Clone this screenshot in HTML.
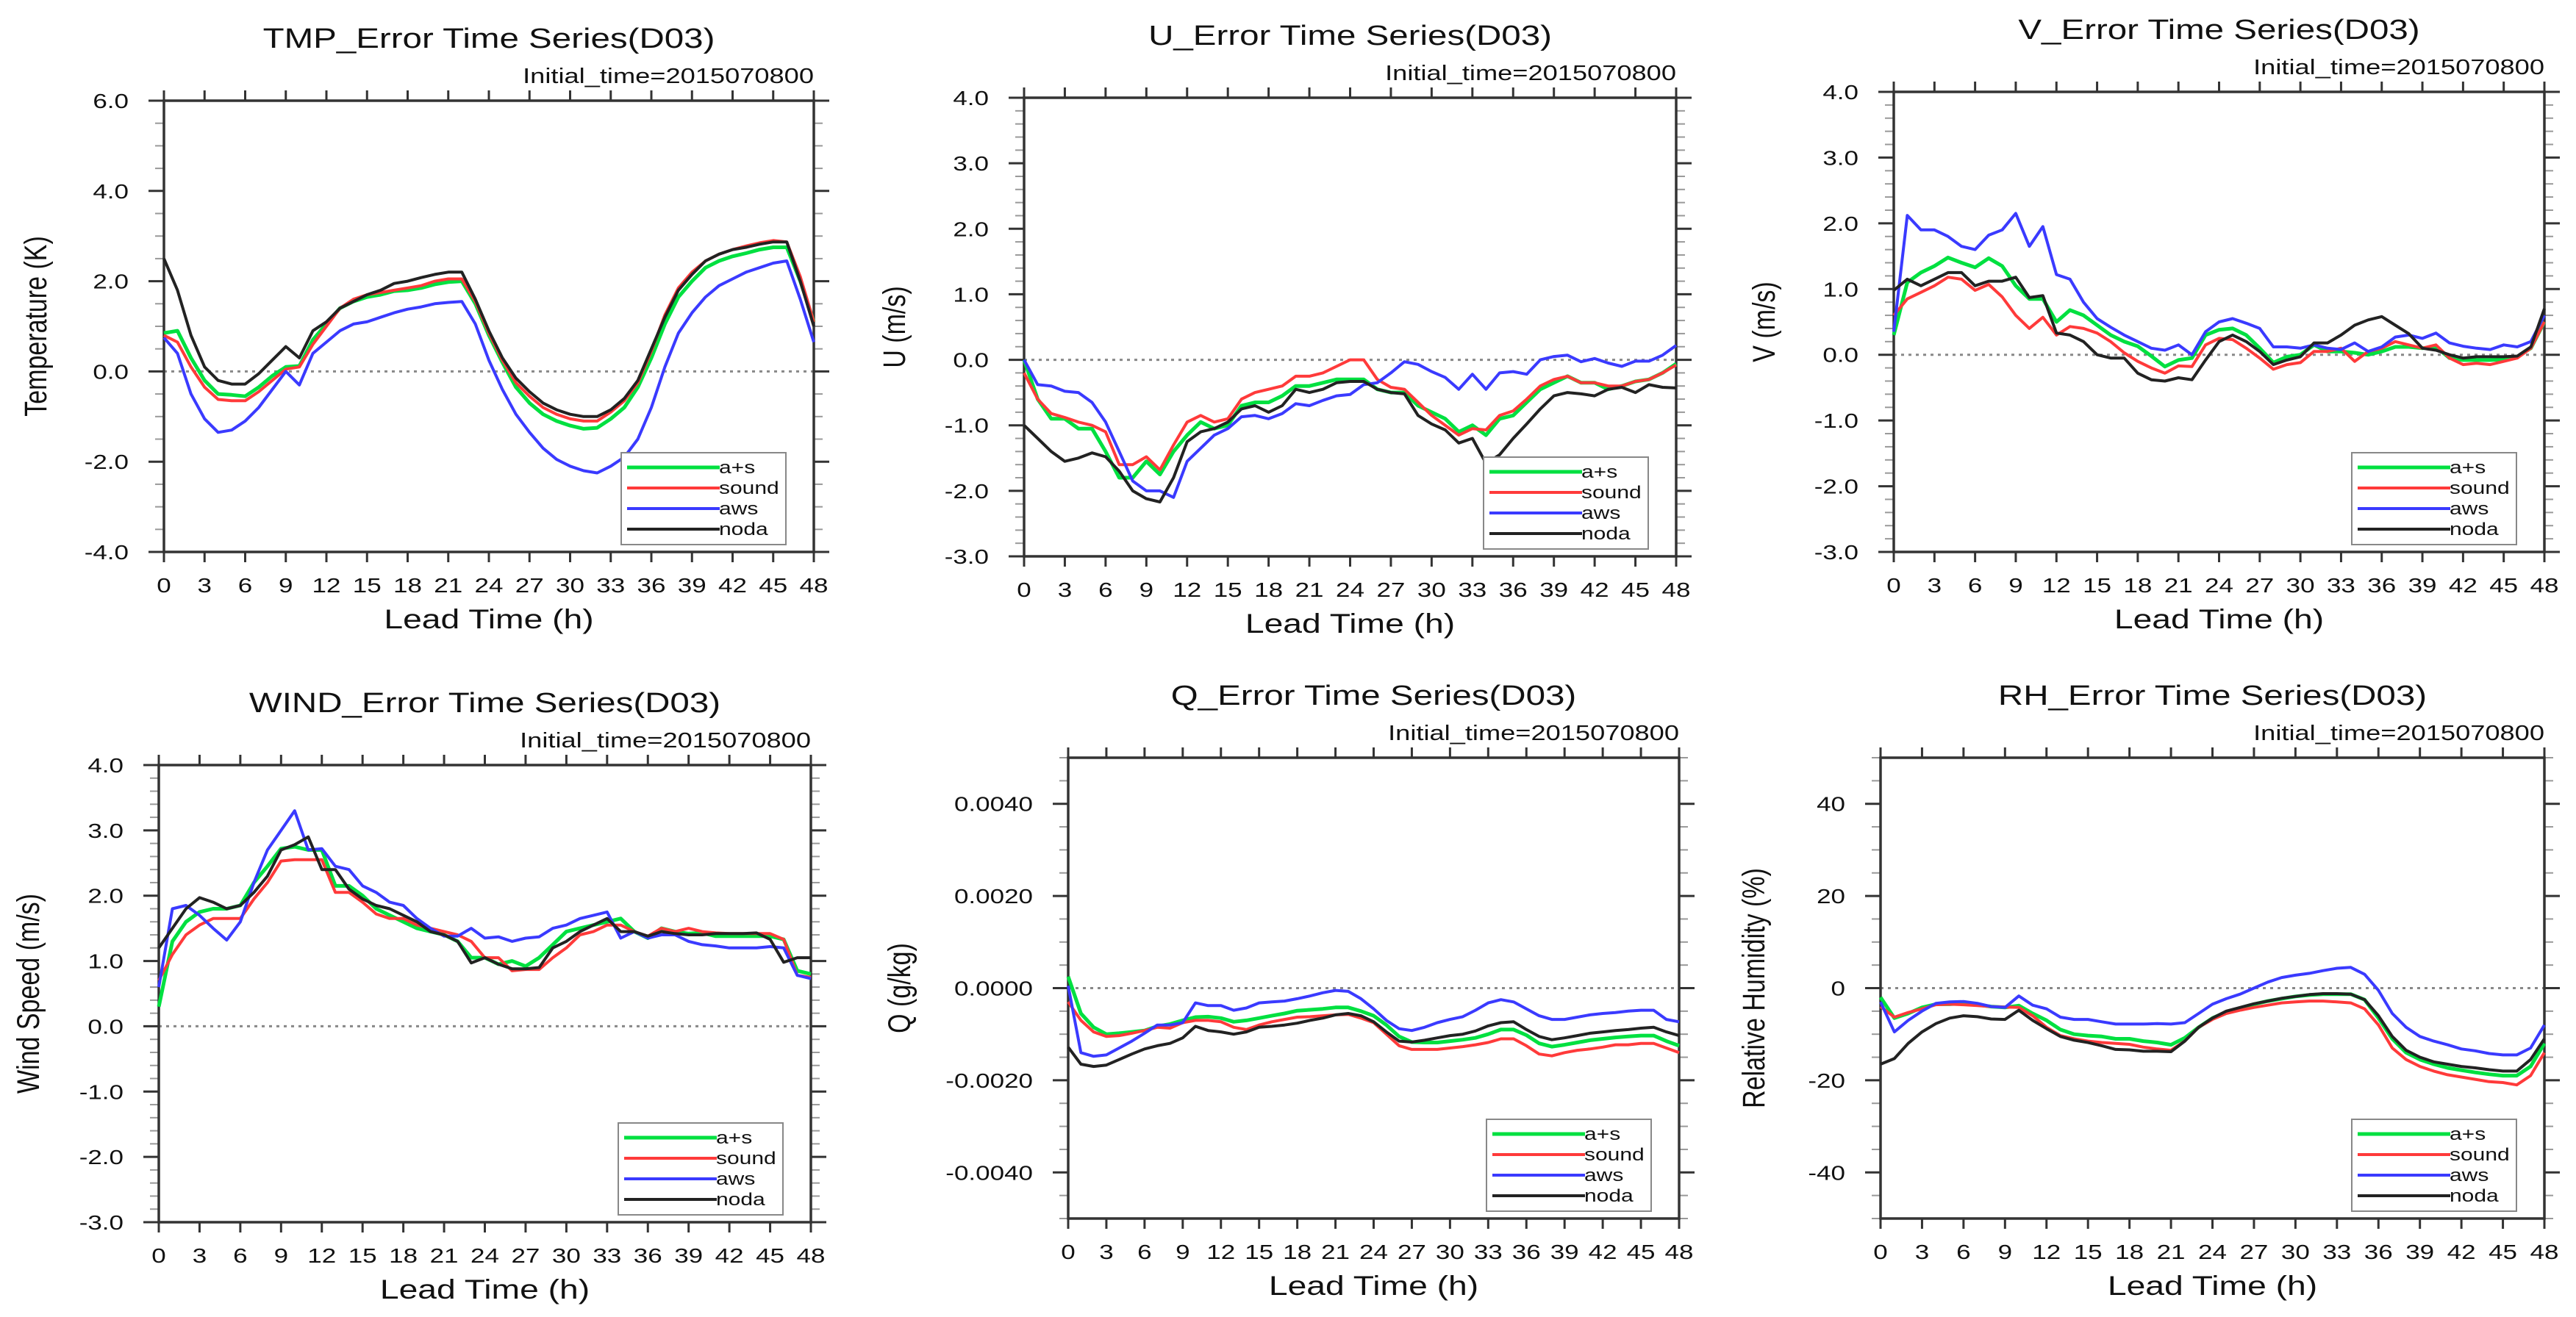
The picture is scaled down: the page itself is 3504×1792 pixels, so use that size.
<!DOCTYPE html>
<html><head><meta charset="utf-8"><style>
html,body{margin:0;padding:0;background:#fff;}
svg{display:block;}
text{font-family:"Liberation Sans",sans-serif;fill:#111;}
</style></head><body>
<svg id="fig" xmlns="http://www.w3.org/2000/svg" width="3504" height="1792" viewBox="0 0 3504 1792"></svg>
<script>
const hours=[0,1,2,3,4,5,6,7,8,9,10,11,12,13,14,15,16,17,18,19,20,21,22,23,24,25,26,27,28,29,30,31,32,33,34,35,36,37,38,39,40,41,42,43,44,45,46,47,48];
const seriesNames=["a+s","sound","aws","noda"];
const xTickLabels=["0","3","6","9","12","15","18","21","24","27","30","33","36","39","42","45","48"];

const tmpAS=[0.85,0.9,0.3,-0.2,-0.5,-0.52,-0.55,-0.35,-0.1,0.1,0.12,0.7,1.05,1.4,1.55,1.65,1.7,1.78,1.8,1.85,1.93,1.98,2.0,1.5,0.8,0.2,-0.35,-0.7,-0.95,-1.1,-1.2,-1.27,-1.25,-1.05,-0.8,-0.35,0.3,1.05,1.65,2.0,2.3,2.45,2.55,2.62,2.7,2.75,2.75,2.0,1.1];
const tmpSound=[0.8,0.65,0.1,-0.35,-0.62,-0.65,-0.65,-0.45,-0.2,0.05,0.1,0.6,1.0,1.4,1.6,1.7,1.75,1.8,1.85,1.9,2.0,2.05,2.05,1.55,0.85,0.25,-0.25,-0.55,-0.8,-0.95,-1.05,-1.1,-1.1,-0.9,-0.65,-0.25,0.45,1.25,1.85,2.2,2.45,2.6,2.7,2.78,2.85,2.9,2.87,2.1,1.1];
const tmpAws=[0.75,0.4,-0.5,-1.05,-1.35,-1.3,-1.1,-0.8,-0.4,0.0,-0.3,0.4,0.65,0.9,1.05,1.1,1.2,1.3,1.38,1.43,1.5,1.53,1.55,1.05,0.25,-0.4,-0.95,-1.35,-1.7,-1.95,-2.1,-2.2,-2.25,-2.1,-1.9,-1.5,-0.8,0.1,0.85,1.3,1.65,1.9,2.05,2.2,2.3,2.4,2.45,1.6,0.65];
const tmpNoda=[2.5,1.8,0.8,0.1,-0.2,-0.28,-0.28,-0.05,0.25,0.55,0.3,0.9,1.1,1.4,1.55,1.7,1.8,1.95,2.0,2.08,2.15,2.2,2.2,1.6,0.9,0.3,-0.15,-0.45,-0.7,-0.85,-0.95,-1.0,-1.0,-0.85,-0.6,-0.2,0.5,1.2,1.8,2.15,2.45,2.6,2.7,2.75,2.82,2.87,2.87,2.0,1.0];

const uAS=[0,-0.6,-0.9,-0.9,-1.05,-1.05,-1.4,-1.8,-1.8,-1.55,-1.75,-1.4,-1.15,-0.95,-1.05,-1.0,-0.7,-0.65,-0.65,-0.55,-0.4,-0.4,-0.35,-0.3,-0.3,-0.3,-0.45,-0.5,-0.5,-0.7,-0.8,-0.9,-1.1,-1.0,-1.15,-0.9,-0.85,-0.65,-0.45,-0.35,-0.25,-0.35,-0.35,-0.45,-0.4,-0.33,-0.3,-0.2,-0.06];
const uSound=[-0.2,-0.6,-0.82,-0.88,-0.95,-1.0,-1.1,-1.6,-1.6,-1.48,-1.68,-1.3,-0.95,-0.85,-0.95,-0.9,-0.6,-0.5,-0.45,-0.4,-0.25,-0.25,-0.2,-0.1,0.0,0.0,-0.3,-0.42,-0.45,-0.65,-0.85,-1.0,-1.15,-1.05,-1.07,-0.85,-0.78,-0.6,-0.4,-0.3,-0.25,-0.35,-0.35,-0.4,-0.4,-0.33,-0.3,-0.2,-0.08];
const uAws=[0,-0.38,-0.4,-0.48,-0.5,-0.65,-0.95,-1.4,-1.85,-2.0,-2.0,-2.1,-1.55,-1.35,-1.15,-1.05,-0.87,-0.85,-0.9,-0.82,-0.67,-0.7,-0.62,-0.55,-0.53,-0.38,-0.35,-0.2,-0.03,-0.07,-0.18,-0.27,-0.45,-0.22,-0.45,-0.2,-0.18,-0.22,0.0,0.05,0.07,-0.03,0.02,-0.05,-0.1,-0.02,-0.02,0.07,0.22];
const uNoda=[-1.0,-1.2,-1.4,-1.55,-1.5,-1.42,-1.48,-1.7,-2.0,-2.12,-2.17,-1.8,-1.25,-1.1,-1.05,-0.95,-0.75,-0.7,-0.8,-0.7,-0.45,-0.5,-0.45,-0.35,-0.33,-0.33,-0.45,-0.5,-0.52,-0.85,-0.98,-1.07,-1.27,-1.2,-1.58,-1.45,-1.2,-0.98,-0.75,-0.55,-0.5,-0.52,-0.55,-0.45,-0.42,-0.5,-0.38,-0.42,-0.43];

const vAS=[0.3,1.1,1.25,1.35,1.48,1.4,1.33,1.47,1.35,1.05,0.85,0.85,0.5,0.68,0.6,0.45,0.3,0.2,0.13,-0.02,-0.18,-0.08,-0.05,0.3,0.38,0.4,0.3,0.1,-0.12,-0.03,0.0,0.15,0.05,0.05,0.03,0.0,0.05,0.12,0.12,0.1,0.12,-0.05,-0.08,-0.08,-0.08,-0.07,-0.03,0.1,0.5];
const vSound=[0.6,0.85,0.95,1.05,1.18,1.15,0.98,1.07,0.88,0.6,0.4,0.57,0.3,0.43,0.4,0.33,0.2,0.03,-0.1,-0.2,-0.28,-0.17,-0.18,0.15,0.25,0.23,0.1,-0.05,-0.22,-0.15,-0.12,0.05,0.05,0.1,-0.1,0.05,0.1,0.2,0.15,0.1,0.15,-0.05,-0.15,-0.13,-0.15,-0.1,-0.05,0.1,0.5];
const vAws=[0.35,2.12,1.9,1.9,1.8,1.65,1.6,1.82,1.9,2.15,1.65,1.95,1.22,1.15,0.8,0.55,0.42,0.3,0.2,0.1,0.07,0.15,0.0,0.35,0.5,0.55,0.48,0.4,0.12,0.12,0.1,0.15,0.1,0.08,0.18,0.05,0.12,0.27,0.3,0.25,0.33,0.18,0.13,0.1,0.08,0.15,0.12,0.2,0.6];
const vNoda=[0.98,1.15,1.05,1.15,1.25,1.25,1.05,1.12,1.12,1.18,0.87,0.9,0.33,0.3,0.2,0.0,-0.05,-0.05,-0.28,-0.38,-0.4,-0.35,-0.38,-0.08,0.2,0.3,0.2,0.05,-0.15,-0.08,-0.03,0.18,0.18,0.3,0.45,0.53,0.58,0.45,0.32,0.1,0.07,0.0,-0.05,-0.03,-0.03,-0.03,-0.02,0.12,0.7];

const windAS=[0.3,1.3,1.6,1.75,1.8,1.8,1.85,2.2,2.45,2.72,2.75,2.7,2.7,2.15,2.15,2.0,1.8,1.7,1.6,1.5,1.45,1.4,1.3,1.05,1.05,0.95,1.0,0.92,1.05,1.25,1.45,1.5,1.55,1.6,1.65,1.45,1.35,1.5,1.45,1.42,1.43,1.38,1.38,1.38,1.38,1.38,1.33,0.85,0.8];
const windSound=[0.7,1.1,1.4,1.55,1.65,1.65,1.65,1.95,2.2,2.53,2.55,2.55,2.55,2.05,2.05,1.9,1.72,1.65,1.65,1.55,1.5,1.45,1.4,1.3,1.05,1.05,0.85,0.87,0.87,1.05,1.2,1.4,1.45,1.55,1.55,1.45,1.38,1.5,1.45,1.5,1.45,1.43,1.42,1.42,1.42,1.42,1.33,0.78,0.75];
const windAws=[0.6,1.8,1.85,1.7,1.5,1.32,1.6,2.2,2.7,3.0,3.3,2.7,2.72,2.45,2.4,2.15,2.05,1.9,1.85,1.65,1.5,1.38,1.38,1.5,1.35,1.37,1.3,1.35,1.37,1.5,1.55,1.65,1.7,1.75,1.35,1.45,1.35,1.4,1.4,1.3,1.25,1.23,1.2,1.2,1.2,1.22,1.2,0.78,0.73];
const windNoda=[1.2,1.5,1.8,1.97,1.9,1.8,1.85,2.05,2.3,2.7,2.78,2.9,2.4,2.4,2.1,1.95,1.85,1.8,1.7,1.6,1.45,1.4,1.3,0.97,1.05,0.95,0.88,0.88,0.9,1.2,1.3,1.45,1.55,1.65,1.45,1.45,1.38,1.45,1.42,1.4,1.4,1.42,1.42,1.42,1.43,1.33,0.98,1.05,1.05];

const qAS=[0.00025,-0.00055,-0.00085,-0.001,-0.00098,-0.00095,-0.00092,-0.00083,-0.00078,-0.0007,-0.00063,-0.00062,-0.00065,-0.00073,-0.0007,-0.00065,-0.0006,-0.00055,-0.00049,-0.00047,-0.00045,-0.00042,-0.00042,-0.0005,-0.0006,-0.0008,-0.00105,-0.00117,-0.00118,-0.00118,-0.00115,-0.00112,-0.00108,-0.001,-0.0009,-0.0009,-0.00102,-0.0012,-0.00127,-0.00123,-0.00118,-0.00113,-0.0011,-0.00107,-0.00105,-0.00103,-0.00103,-0.00115,-0.00125];
const qSound=[-0.0003,-0.0007,-0.00095,-0.00105,-0.00103,-0.00098,-0.00092,-0.00085,-0.00087,-0.00075,-0.0007,-0.0007,-0.00073,-0.00085,-0.0009,-0.0008,-0.00073,-0.00068,-0.00063,-0.00062,-0.0006,-0.00058,-0.00057,-0.00065,-0.00075,-0.001,-0.00125,-0.00133,-0.00133,-0.00133,-0.0013,-0.00127,-0.00123,-0.00118,-0.0011,-0.0011,-0.00125,-0.00143,-0.00147,-0.0014,-0.00135,-0.00132,-0.00128,-0.00123,-0.00123,-0.0012,-0.0012,-0.0013,-0.0014];
const qAws=[0.00005,-0.0014,-0.00148,-0.00145,-0.0013,-0.00115,-0.00098,-0.0008,-0.0008,-0.00075,-0.00032,-0.00038,-0.00038,-0.00048,-0.00043,-0.00032,-0.0003,-0.00028,-0.00023,-0.00017,-0.0001,-0.00005,-0.00007,-0.00023,-0.00045,-0.0007,-0.00088,-0.00092,-0.00085,-0.00075,-0.00068,-0.00062,-0.00048,-0.00032,-0.00025,-0.0003,-0.00045,-0.0006,-0.00068,-0.00068,-0.00063,-0.00058,-0.00055,-0.00053,-0.0005,-0.00048,-0.00048,-0.00068,-0.00073];
const qNoda=[-0.00128,-0.00165,-0.0017,-0.00167,-0.00155,-0.00143,-0.00132,-0.00125,-0.0012,-0.00108,-0.00083,-0.00092,-0.00095,-0.001,-0.00095,-0.00085,-0.00083,-0.0008,-0.00076,-0.0007,-0.00065,-0.00058,-0.00055,-0.0006,-0.00073,-0.00095,-0.00115,-0.00117,-0.00113,-0.00108,-0.00103,-0.001,-0.00093,-0.00082,-0.00075,-0.00073,-0.0009,-0.00105,-0.00112,-0.00108,-0.00103,-0.00098,-0.00095,-0.00092,-0.0009,-0.00087,-0.00085,-0.00095,-0.00103];

const rhAS=[-2,-6.5,-5.5,-4.2,-3.5,-3.5,-3.3,-3.6,-4,-4.2,-3.8,-5.5,-7,-9,-10,-10.3,-10.5,-11,-11,-11.5,-11.8,-12.3,-10.8,-8.5,-6.5,-5.2,-4.3,-3.5,-2.8,-2.3,-1.8,-1.5,-1.3,-1.3,-1.3,-2.5,-6.5,-11,-14,-15.5,-16.5,-17.3,-17.8,-18.3,-18.7,-19,-19,-17,-12];
const rhSound=[-4,-6.3,-5.3,-4.5,-3.6,-3.5,-3.6,-3.8,-4.0,-4.1,-4.2,-6,-8.5,-10.3,-11,-11.5,-11.8,-12,-12.2,-12.8,-13.2,-13.5,-11.5,-8.5,-6.8,-5.5,-4.8,-4.2,-3.7,-3.2,-3,-2.8,-2.8,-3,-3.2,-4.5,-8,-13,-15.5,-17,-18,-18.8,-19.3,-19.8,-20.3,-20.5,-21,-19,-14];
const rhAws=[-3,-9.5,-7,-5,-3.3,-3,-2.9,-3.3,-4,-4.2,-1.7,-3.7,-4.5,-6.3,-6.8,-6.8,-7.3,-7.8,-7.8,-7.8,-7.7,-7.8,-7.5,-5.5,-3.5,-2.3,-1.3,0,1.3,2.3,2.8,3.2,3.8,4.3,4.5,3,-0.5,-5.5,-8.5,-10.5,-11.5,-12.3,-13.2,-13.6,-14.2,-14.5,-14.5,-13,-8];
const rhNoda=[-16.5,-15.3,-12,-9.5,-7.7,-6.5,-6,-6.2,-6.7,-6.8,-4.8,-7,-8.8,-10.5,-11.3,-11.8,-12.5,-13.3,-13.4,-13.7,-13.7,-13.8,-11.5,-8.5,-6.5,-5.0,-4.2,-3.4,-2.8,-2.2,-1.8,-1.4,-1.2,-1.2,-1.3,-2.5,-6,-10.5,-13.5,-15,-16,-16.5,-17,-17.3,-17.7,-18,-18,-15.5,-11];

const tmpTicks=[6,4,2,0,-2,-4];     const tmpTickLabels=["6.0","4.0","2.0","0.0","-2.0","-4.0"];
const uvTicks=[4,3,2,1,0,-1,-2,-3]; const uvTickLabels=["4.0","3.0","2.0","1.0","0.0","-1.0","-2.0","-3.0"];
const qTicks=[0.004,0.002,0,-0.002,-0.004]; const qTickLabels=["0.0040","0.0020","0.0000","-0.0020","-0.0040"];
const rhTicks=[40,20,0,-20,-40];   const rhTickLabels=["40","20","0","-20","-40"];

const colors={"a+s":"#00e040","sound":"#ff3a3a","aws":"#3a3aff","noda":"#222222"};
const NS="http://www.w3.org/2000/svg";
const fig=document.getElementById('fig');
const SX=1.25;

const panels=[
 {key:"tmp",title:"TMP_Error Time Series(D03)",ylabel:"Temperature (K)",x0:223,x1:1107,y0:137,y1:751,ymin:-4,ymax:6,minor:0.5,ticks:tmpTicks,tl:tmpTickLabels,data:[tmpAS,tmpSound,tmpAws,tmpNoda],ylx:51},
 {key:"u",title:"U_Error Time Series(D03)",ylabel:"U (m/s)",x0:1393,x1:2280,y0:133,y1:757,ymin:-3,ymax:4,minor:0.2,ticks:uvTicks,tl:uvTickLabels,data:[uAS,uSound,uAws,uNoda],ylx:1219},
 {key:"v",title:"V_Error Time Series(D03)",ylabel:"V (m/s)",x0:2576,x1:3461,y0:125,y1:751,ymin:-3,ymax:4,minor:0.2,ticks:uvTicks,tl:uvTickLabels,data:[vAS,vSound,vAws,vNoda],ylx:2402},
 {key:"wind",title:"WIND_Error Time Series(D03)",ylabel:"Wind Speed (m/s)",x0:216,x1:1103,y0:1041,y1:1663,ymin:-3,ymax:4,minor:0.2,ticks:uvTicks,tl:uvTickLabels,data:[windAS,windSound,windAws,windNoda],ylx:41},
 {key:"q",title:"Q_Error Time Series(D03)",ylabel:"Q (g/kg)",x0:1453,x1:2284,y0:1031,y1:1658,ymin:-0.005,ymax:0.005,minor:0.0005,ticks:qTicks,tl:qTickLabels,data:[qAS,qSound,qAws,qNoda],ylx:1226},
 {key:"rh",title:"RH_Error Time Series(D03)",ylabel:"Relative Humidity (%)",x0:2558,x1:3461,y0:1031,y1:1658,ymin:-50,ymax:50,minor:5,ticks:rhTicks,tl:rhTickLabels,data:[rhAS,rhSound,rhAws,rhNoda],ylx:2388}
];

function mk(tag,attrs,parent){const e=document.createElementNS(NS,tag);for(const k in attrs)e.setAttribute(k,attrs[k]);(parent||fig).appendChild(e);return e;}
function txt(parent,x,y,s,size,anchor,rot){
  const t=document.createElementNS(NS,'text');
  t.setAttribute('transform','translate('+x+','+y+')'+(rot?' rotate(-90)':'')+(rot?' scale(1,'+SX+')':' scale('+SX+',1)'));
  t.setAttribute('font-size',size);t.setAttribute('text-anchor',anchor);
  t.textContent=s;parent.appendChild(t);return t;
}

panels.forEach(p=>{
  const g=mk('g',{});
  
  
  const xs=h=>p.x0+(h-hours[0])/(hours[hours.length-1]-hours[0])*(p.x1-p.x0);
  const ys=v=>p.y1-(v-p.ymin)/(p.ymax-p.ymin)*(p.y1-p.y0);
  const cx=(p.x0+p.x1)/2;
  const ti=txt(g,cx,p.y0-72,p.title,38,'middle');
  
  
  const it=txt(g,p.x1,p.y0-24,'Initial_time=2015070800',29,'end');
  
  
  const z=mk('line',{x1:p.x0,x2:p.x1,y1:ys(0),y2:ys(0),stroke:'#888',"stroke-width":3,"stroke-dasharray":"4 6"},g);
  
  
  const nMin=Math.round((p.ymax-p.ymin)/p.minor);
  for(let i=0;i<=nMin;i++){const y=ys(p.ymin+i*p.minor);
    mk('line',{x1:p.x0-12,x2:p.x0,y1:y,y2:y,stroke:'#999',"stroke-width":2},g);
    mk('line',{x1:p.x1,x2:p.x1+12,y1:y,y2:y,stroke:'#999',"stroke-width":2},g);}
  p.ticks.forEach((v,i)=>{const y=ys(v);
    mk('line',{x1:p.x0-21,x2:p.x0,y1:y,y2:y,stroke:'#333',"stroke-width":3},g);
    mk('line',{x1:p.x1,x2:p.x1+21,y1:y,y2:y,stroke:'#333',"stroke-width":3},g);
    const l=txt(g,p.x0-48,y+10,p.tl[i],28,'end');
    
    });
  xTickLabels.forEach(s=>{const x=xs(+s);
    mk('line',{x1:x,x2:x,y1:p.y0-14,y2:p.y0,stroke:'#333',"stroke-width":3},g);
    mk('line',{x1:x,x2:x,y1:p.y1,y2:p.y1+14,stroke:'#333',"stroke-width":3},g);
    const l=txt(g,x,p.y1+55,s,28,'middle');
    
    });
  const b=mk('rect',{x:p.x0,y:p.y0,width:p.x1-p.x0,height:p.y1-p.y0,fill:'none',stroke:'#333',"stroke-width":3.5},g);
  
  
  p.data.forEach((arr,si)=>{
    const d=arr.map((v,i)=>(i?'L':'M')+xs(hours[i]).toFixed(1)+','+ys(v).toFixed(1)).join('');
    const pl=mk('path',{d:d,fill:'none',stroke:colors[seriesNames[si]],"stroke-width":si===0?5:4,"stroke-linejoin":"round"},g);
    
    
  });
  const lx=p.x1-38-224, ly=p.y1-10-125;
  const lg=mk('g',{},g);
  
  
  mk('rect',{x:lx,y:ly,width:224,height:125,fill:'#fff',stroke:'#888',"stroke-width":2},lg);
  seriesNames.forEach((n,i)=>{const yy=ly+20+i*28;
    const e=mk('g',{},lg);
    
    
    mk('line',{x1:lx+8,x2:lx+134,y1:yy,y2:yy,stroke:colors[n],"stroke-width":i===0?5:4},e);
    txt(e,lx+133,yy+8,n,24,'start');});
  const xl=txt(g,cx,p.y1+104,'Lead Time (h)',37,'middle');
  
  
  const yl=txt(g,p.ylx+12,(p.y0+p.y1)/2,p.ylabel,34,'middle',true);
  
  
});
</script>
</body></html>
